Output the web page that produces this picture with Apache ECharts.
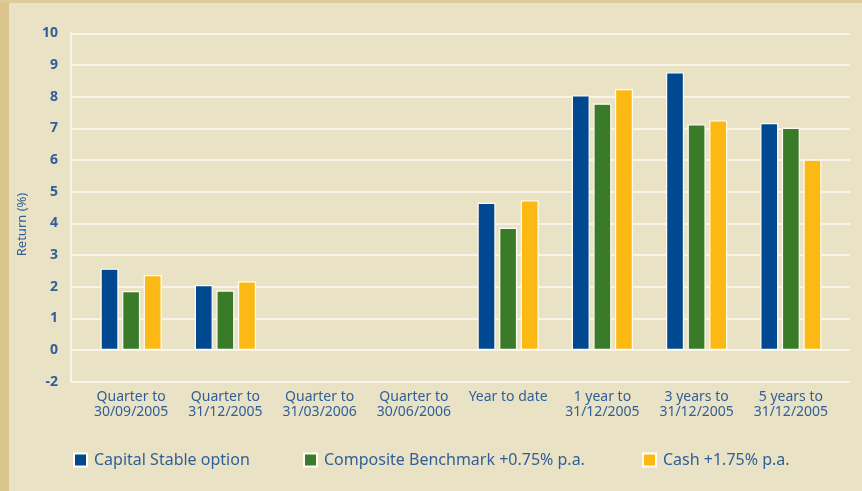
<!DOCTYPE html>
<html>
<head>
<meta charset="utf-8">
<script src="https://cdn.jsdelivr.net/npm/echarts@6/dist/echarts.min.js"></script>
<style>
html,body{margin:0;padding:0;background:#EAE2C5;}
#chart{width:862px;height:491px;}
</style>
</head>
<body>
<div id="chart"></div>
<script>
const categories = ['Quarter to\n30/09/2005','Quarter to\n31/12/2005','Quarter to\n31/03/2006','Quarter to\n30/06/2006','Year to date','1 year to\n31/12/2005','3 years to\n31/12/2005','5 years to\n31/12/2005'];
const seriesNames = ['Capital Stable option','Composite Benchmark +0.75% p.a.','Cash +1.75% p.a.'];
const capitalStable = [2.57, 2.05, null, null, 4.65, 8.04, 8.77, 7.17];
const compositeBenchmark = [1.86, 1.88, null, null, 3.86, 7.78, 7.13, 7.02];
const cash = [2.37, 2.17, null, null, 4.73, 8.24, 7.25, 6.01];
const yTickLabels = {'-1':'-2','0':'0','1':'1','2':'2','3':'3','4':'4','5':'5','6':'6','7':'7','8':'8','9':'9','10':'10'};
const colors = ['#004990','#3A7B2A','#FDB913'];
const textColor = '#2f5f99';
const font = 'Noto Sans';

const chart = echarts.init(document.getElementById('chart'));
const seriesData = [capitalStable, compositeBenchmark, cash];
const legendLefts = [73, 303, 642];

chart.setOption({
  backgroundColor: '#EAE2C5',
  animation: false,
  graphic: [
    {type:'rect', left:0, top:0, shape:{x:0,y:0,width:9,height:491}, style:{fill:'#DAC58E'}, z:-1},
    {type:'rect', left:0, top:0, shape:{x:0,y:0,width:862,height:3}, style:{fill:'#DECB98'}, z:-1}
  ],
  legend: seriesNames.map((n, i) => ({
    data: [n],
    left: legendLefts[i],
    top: 452,
    itemWidth: 13,
    itemHeight: 13,
    itemGap: 0,
    padding: 0,
    icon: 'rect',
    textStyle: {color: textColor, fontSize: 16, fontFamily: font, padding:[0,0,0,2]},
    selectedMode: false
  })),
  grid: [
    {left: 71, right: 12, top: 33.3, bottom: 109.3},
    {left: 84, right: 24, top: 33.3, bottom: 109.3}
  ],
  xAxis: [
    {gridIndex: 0, type: 'value', min: 0, max: 1, show: false},
    {gridIndex: 1, type: 'category', data: categories,
     axisLine: {show: false}, axisTick: {show: false},
     axisLabel: {color: textColor, fontSize: 14, fontFamily: font, margin: 8, lineHeight: 15, interval: 0}}
  ],
  yAxis: [
    {gridIndex: 0, type: 'value', min: -1, max: 10, interval: 1,
     name: 'Return (%)', nameLocation: 'middle', nameGap: 42, nameRotate: 90,
     nameTextStyle: {color: textColor, fontSize: 13, fontFamily: font, padding: [0, 34, 0, 0]},
     axisLine: {show: true, lineStyle: {color: '#F8F4E8', width: 2}},
     axisTick: {show: false},
     axisLabel: {color: textColor, fontSize: 14, fontWeight: 'bold', fontFamily: font, margin: 13,
       formatter: v => yTickLabels[String(v)]},
     splitLine: {show: true, lineStyle: {color: '#F8F4E8', width: 2}}},
    {gridIndex: 1, type: 'value', min: -1, max: 10, interval: 1, show: false, splitLine: {show: false}}
  ],
  series: seriesNames.map((n, i) => ({
    name: n,
    type: 'bar',
    xAxisIndex: 1,
    yAxisIndex: 1,
    data: seriesData[i],
    barWidth: 18,
    barGap: '20%',
    itemStyle: {color: colors[i], borderColor: '#FFFDF5', borderWidth: 1.2}
  }))
});
</script>
</body>
</html>
